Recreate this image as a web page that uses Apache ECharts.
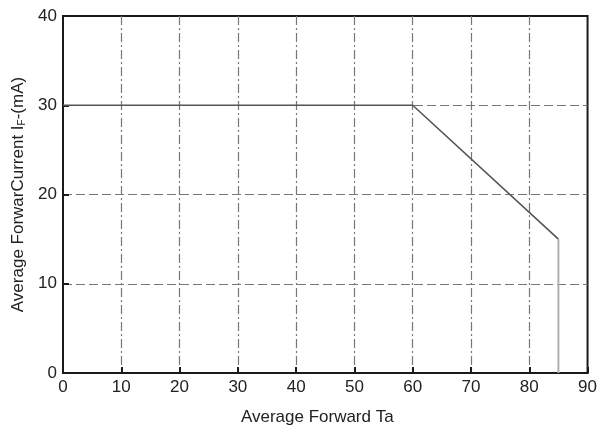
<!DOCTYPE html>
<html><head><meta charset="utf-8">
<script src="https://cdn.jsdelivr.net/npm/echarts@6/dist/echarts.min.js"></script>
<style>html,body{margin:0;padding:0;background:#fff}#c{width:600px;height:433px}</style>
</head><body><div id="c"></div>
<script>
const tempX = [0, 60, 85];
const currentY = [30, 30, 15];
const cutoffX = [85, 85];
const cutoffY = [15, 0];
const xTicks = [0,10,20,30,40,50,60,70,80,90];
const yTicks = [0,10,20,30,40];

const chart = echarts.init(document.getElementById('c'));
const font = 'Liberation Sans, Arial, sans-serif';
chart.setOption({
  animation: false,
  grid: {left: 63, right: 11, top: 16, bottom: 60, show: true, borderColor: '#1a1a1a', borderWidth: 2, backgroundColor: '#fff'},
  xAxis: {
    type: 'value', min: 0, max: 90, interval: 10,
    name: 'Average Forward Ta', nameLocation: 'middle', nameGap: 36,
    nameTextStyle: {fontFamily: font, fontSize: 17, color: '#222', padding: [0, 16, 0, 0]},
    axisLine: {show: true, lineStyle: {color: '#1a1a1a', width: 2}},
    axisTick: {show: true, inside: true, length: 6, lineStyle: {color: '#1a1a1a', width: 2}},
    axisLabel: {fontFamily: font, fontSize: 17, color: '#222', margin: 6,
      formatter: v => xTicks.includes(v) ? String(v) : ''},
    splitLine: {show: true, showMinLine: false, showMaxLine: false, lineStyle: {color: '#777', width: 1.2, type: [9,3,2,3]}}
  },
  yAxis: {
    type: 'value', min: 0, max: 40, interval: 10,
    name: '{n|Average ForwarCurrent I}{s|F}{n|-(mA)}', nameLocation: 'middle', nameGap: 34,
    nameTextStyle: {rich: {n: {fontFamily: font, fontSize: 17, color: '#222'}, s: {fontFamily: font, fontSize: 10, color: '#222', verticalAlign: 'bottom', padding: [8,0,0,0]}}},
    axisLine: {show: true, lineStyle: {color: '#1a1a1a', width: 2}},
    axisTick: {show: true, inside: true, length: 6, lineStyle: {color: '#1a1a1a', width: 2}},
    axisLabel: {fontFamily: font, fontSize: 17, color: '#222', margin: 6,
      formatter: v => yTicks.includes(v) ? String(v) : ''},
    splitLine: {show: true, showMinLine: false, showMaxLine: false, lineStyle: {color: '#777', width: 1.2, type: [9,4]}}
  },
  series: [
    {type: 'line', data: tempX.map((x,i)=>[x, currentY[i]]), symbol: 'none', lineStyle: {color: '#555', width: 1.6}},
    {type: 'line', data: cutoffX.map((x,i)=>[x, cutoffY[i]]), symbol: 'none', lineStyle: {color: '#b0b0b0', width: 2}}
  ]
});
</script></body></html>
